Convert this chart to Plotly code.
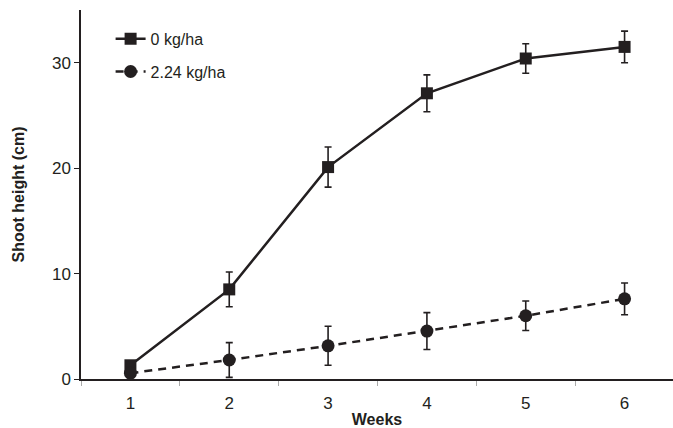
import plotly.graph_objects as go

weeks = [1, 2, 3, 4, 5, 6]
h0 = [1.3, 8.5, 20.1, 27.1, 30.4, 31.5]
h0_err = [0.4, 1.65, 1.9, 1.75, 1.4, 1.5]
h224 = [0.55, 1.8, 3.15, 4.55, 6.0, 7.6]
h224_err = [0.3, 1.65, 1.85, 1.75, 1.4, 1.5]
names = ["0 kg/ha", "2.24 kg/ha"]
ink = "#231f20"
font_family = "Liberation Sans, Arial, sans-serif"

fig = go.Figure()
fig.add_trace(go.Scatter(
    x=weeks, y=h0, name=names[0], mode="lines+markers",
    line=dict(color=ink, width=2.5),
    marker=dict(symbol="square", size=12, color=ink),
    error_y=dict(type="data", array=h0_err, color=ink, thickness=1.6, width=3.5),
    legendgroup="a",
))
fig.add_trace(go.Scatter(
    x=weeks, y=h224, name=names[1], mode="lines+markers",
    line=dict(color=ink, width=2.5, dash="8px,6px"),
    marker=dict(symbol="circle", size=13, color=ink),
    error_y=dict(type="data", array=h224_err, color=ink, thickness=1.6, width=3.5),
    legendgroup="b",
))

fig.update_layout(
    width=673, height=428,
    margin=dict(l=81, r=0, t=10, b=49),
    plot_bgcolor="white", paper_bgcolor="white",
    font=dict(family=font_family, size=16, color=ink),
    showlegend=True,
    legend=dict(x=0.05, y=0.968, xanchor="left", yanchor="top",
                bgcolor="rgba(0,0,0,0)", font=dict(size=16, color=ink),
                tracegroupgap=9, itemwidth=30),
    xaxis=dict(
        range=[0.5, 6.49], showline=True, linecolor=ink, linewidth=1.5,
        tickmode="array", tickvals=weeks, ticktext=[str(w) for w in weeks],
        ticks="outside", ticklen=8, tickcolor="rgba(0,0,0,0)",
        showgrid=False, zeroline=False,
        tickfont=dict(size=17, color=ink),
        minor=dict(tickmode="array", tickvals=[0.5, 1.5, 2.5, 3.5, 4.5, 5.5, 6.5],
                   ticks="outside", ticklen=5, tickcolor="#aaaaaa", tickwidth=1, showgrid=False),
        title=dict(text="<b>Weeks</b>", font=dict(size=16, color=ink), standoff=4),
    ),
    yaxis=dict(
        range=[0, 35], showline=True, linecolor=ink, linewidth=1.5,
        tickmode="array", tickvals=[0, 10, 20, 30],
        ticks="outside", ticklen=5, tickcolor=ink, tickwidth=1,
        showgrid=False, zeroline=False,
        tickfont=dict(size=17, color=ink),
        title=dict(text="<b>Shoot height (cm)</b>", font=dict(size=16, color=ink), standoff=23),
    ),
)

fig.write_html("out.html", config={"displayModeBar": False},
               post_script="document.body.style.margin='0';document.body.style.overflow='hidden';")
